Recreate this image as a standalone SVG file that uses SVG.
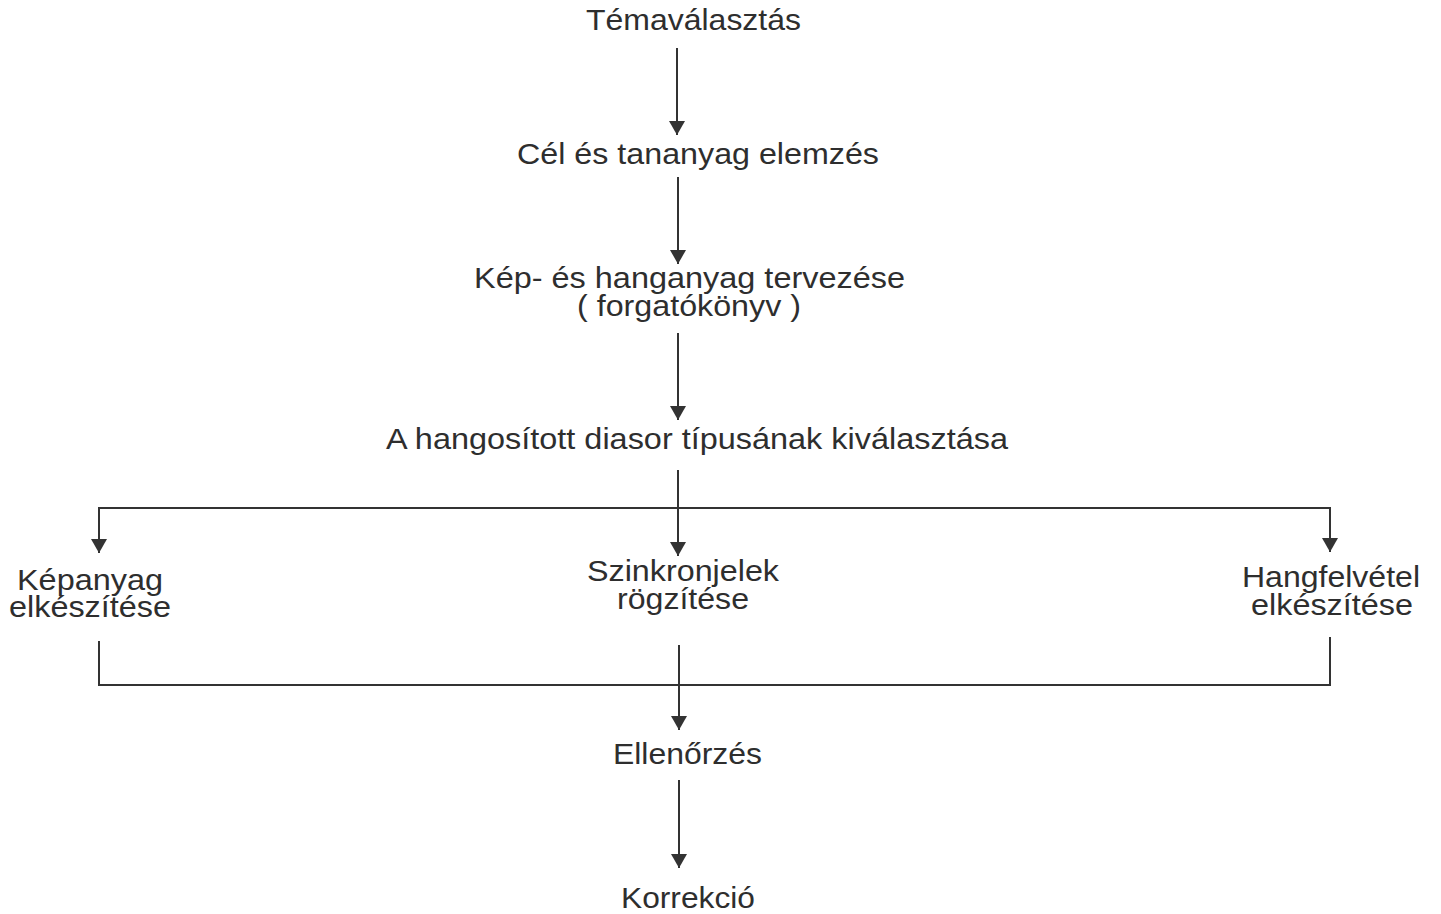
<svg xmlns="http://www.w3.org/2000/svg" width="1441" height="914" viewBox="0 0 1441 914">
  <style>
    .lbl { font-family: "Liberation Sans", Arial, sans-serif; font-size: 29px; fill: #2e2e2e; }
    .ln { fill: none; stroke: #333; stroke-width: 2; }
  </style>
  <defs>
    <marker id="arr" viewBox="0 0 16 14" refX="8" refY="14" markerWidth="16" markerHeight="14" markerUnits="userSpaceOnUse" orient="auto-start-reverse">
      <path d="M0,0 L16,0 L8,14 Z" fill="#333" transform="rotate(-90 8 7)"/>
    </marker>
    <marker id="head" viewBox="0 0 14 16" refX="14" refY="8" markerWidth="14" markerHeight="16" markerUnits="userSpaceOnUse" orient="auto">
      <path d="M0,0 L14,8 L0,16 Z" fill="#333"/>
    </marker>
  </defs>
  <rect width="1441" height="914" fill="#ffffff"/>

  <g id="connectors">
    <line class="ln" x1="677" y1="48" x2="677" y2="135" marker-end="url(#head)"/>
    <line class="ln" x1="678" y1="177" x2="678" y2="264" marker-end="url(#head)"/>
    <line class="ln" x1="678" y1="333" x2="678" y2="420" marker-end="url(#head)"/>
    <line class="ln" x1="678" y1="470" x2="678" y2="556" marker-end="url(#head)"/>
    <polyline class="ln" points="99,553 99,508 1330,508 1330,552" />
    <line class="ln" x1="99" y1="520" x2="99" y2="553" marker-end="url(#head)"/>
    <line class="ln" x1="1330" y1="520" x2="1330" y2="552" marker-end="url(#head)"/>
    <polyline class="ln" points="99,641 99,685 1330,685 1330,637" />
    <line class="ln" x1="679" y1="645" x2="679" y2="730" marker-end="url(#head)"/>
    <line class="ln" x1="679" y1="780" x2="679" y2="868" marker-end="url(#head)"/>
  </g>

  <g id="temavalasztas">
    <text class="lbl" x="586" y="30" textLength="215" lengthAdjust="spacingAndGlyphs">Témaválasztás</text>
  </g>
  <g id="cel-elemzes">
    <text class="lbl" x="517" y="164" textLength="362" lengthAdjust="spacingAndGlyphs">Cél és tananyag elemzés</text>
  </g>
  <g id="kep-hang-terv">
    <text class="lbl" x="474" y="288" textLength="431" lengthAdjust="spacingAndGlyphs">Kép- és hanganyag tervezése</text>
    <text class="lbl" x="577" y="316" textLength="224" lengthAdjust="spacingAndGlyphs">( forgatókönyv )</text>
  </g>
  <g id="diasor-tipus">
    <text class="lbl" x="386" y="449" textLength="622" lengthAdjust="spacingAndGlyphs">A hangosított diasor típusának kiválasztása</text>
  </g>
  <g id="kepanyag">
    <text class="lbl" x="17" y="590" textLength="146" lengthAdjust="spacingAndGlyphs">Képanyag</text>
    <text class="lbl" x="9" y="617" textLength="162" lengthAdjust="spacingAndGlyphs">elkészítése</text>
  </g>
  <g id="szinkronjelek">
    <text class="lbl" x="587" y="581" textLength="192" lengthAdjust="spacingAndGlyphs">Szinkronjelek</text>
    <text class="lbl" x="617" y="609" textLength="132" lengthAdjust="spacingAndGlyphs">rögzítése</text>
  </g>
  <g id="hangfelvetel">
    <text class="lbl" x="1242" y="587" textLength="178" lengthAdjust="spacingAndGlyphs">Hangfelvétel</text>
    <text class="lbl" x="1251" y="615" textLength="162" lengthAdjust="spacingAndGlyphs">elkészítése</text>
  </g>
  <g id="ellenorzes">
    <text class="lbl" x="613" y="764" textLength="149" lengthAdjust="spacingAndGlyphs">Ellenőrzés</text>
  </g>
  <g id="korrekcio">
    <text class="lbl" x="621" y="908" textLength="134" lengthAdjust="spacingAndGlyphs">Korrekció</text>
  </g>
</svg>
